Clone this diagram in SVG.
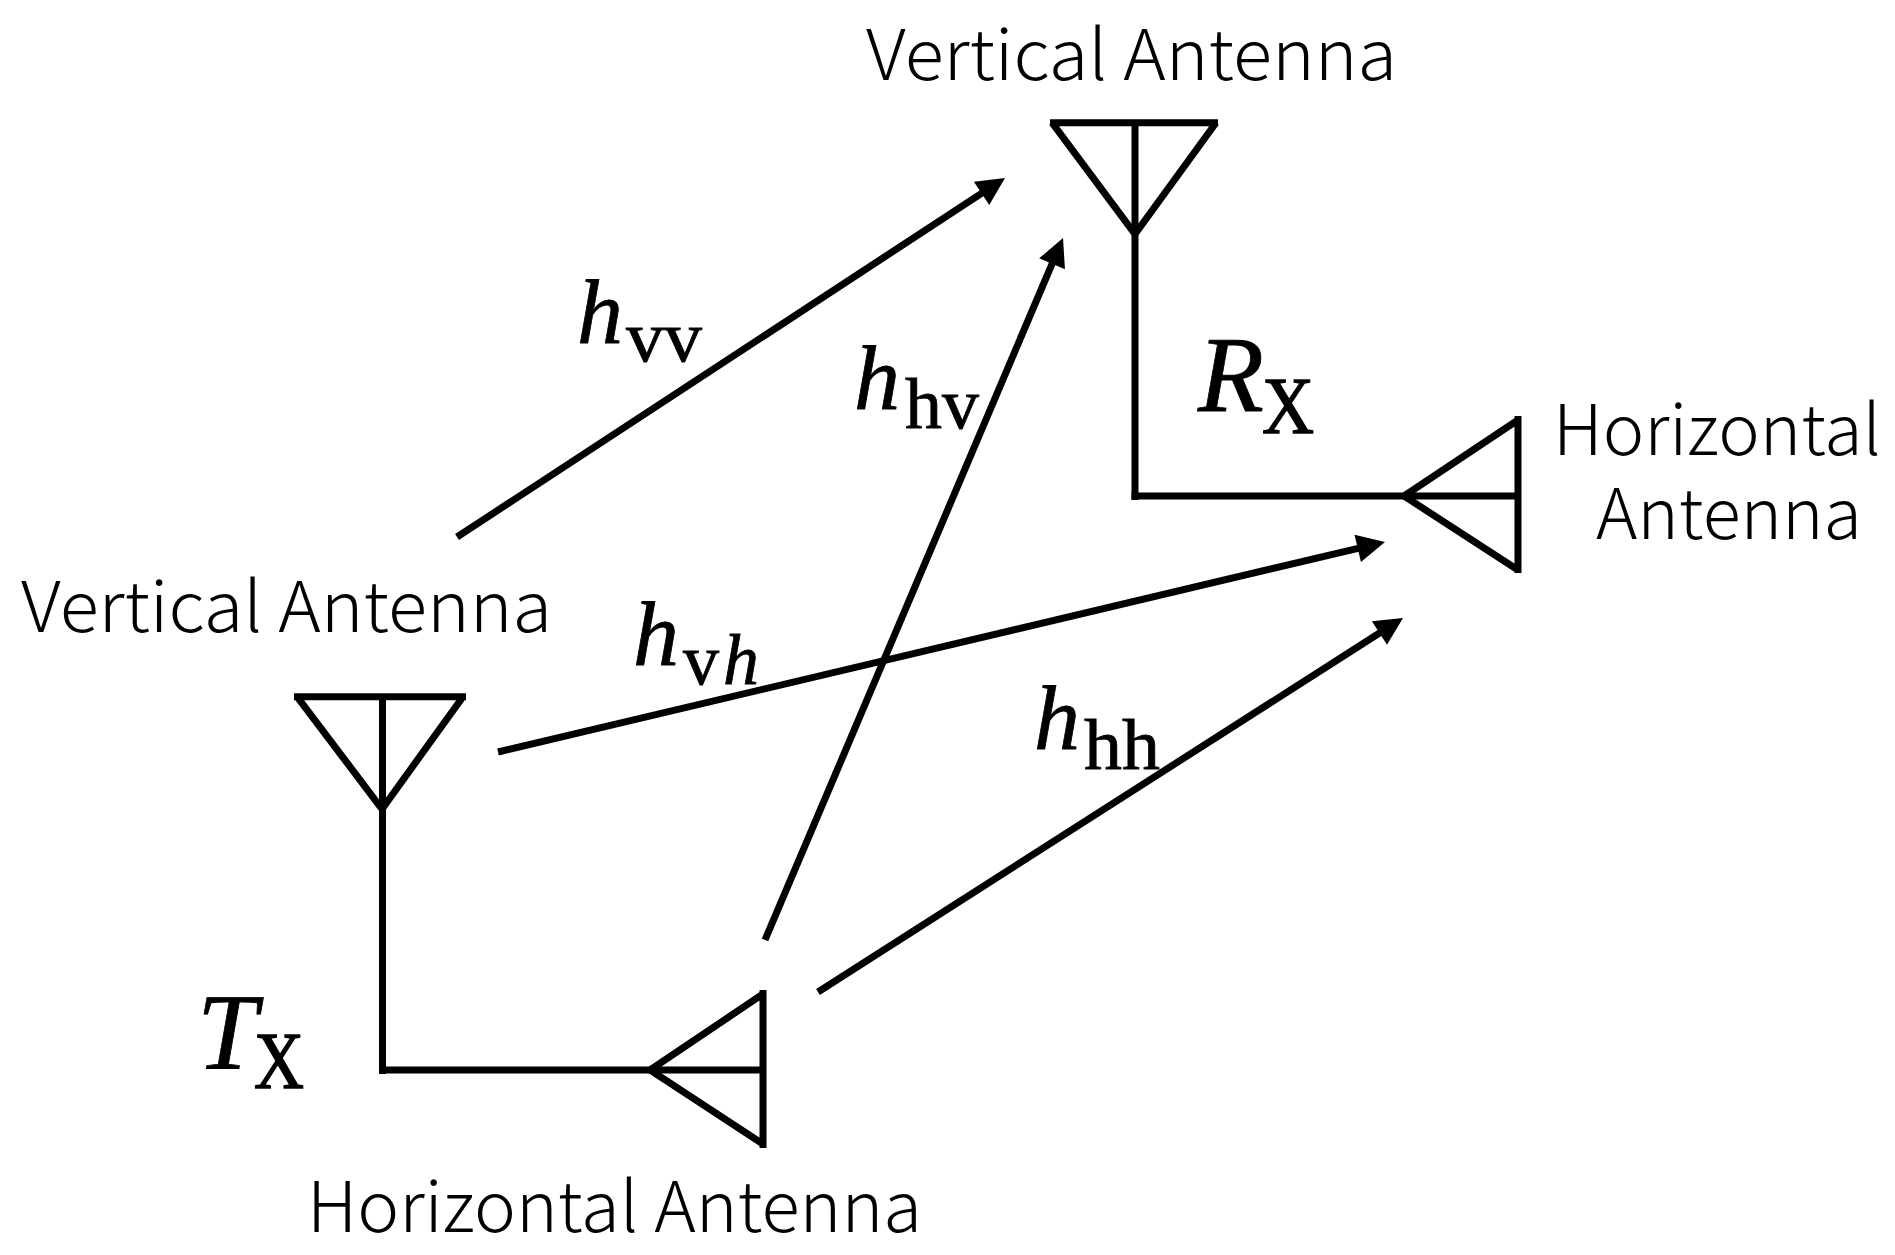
<svg xmlns="http://www.w3.org/2000/svg" width="1895" height="1255" viewBox="0 0 1895 1255">
<style>
.w{fill:none;stroke:#000;stroke-width:7}
.a{stroke:#000;stroke-width:7;fill:none;marker-end:url(#arrow)}
.l{font-family:"Noto Sans CJK JP","Noto Sans",sans-serif;font-weight:300;font-size:70px;fill:#000}
.m{font-family:"Liberation Serif",serif;fill:#000;stroke:#000;stroke-width:.8}
.i{font-style:italic}
.h{font-size:92px}.s{font-size:72px}.b{font-size:108px}.x{font-size:80px;stroke-width:1.4}
</style>
<defs>
<marker id="arrow" markerUnits="userSpaceOnUse" markerWidth="30" markerHeight="30" refX="20" refY="14" orient="auto" overflow="visible">
<path d="M0 0L28 14L0 28Z" fill="#000"/>
</marker>
</defs>
<rect width="1895" height="1255" fill="#fff"/>
<g id="connectors">
<line class="a" x1="457" y1="537" x2="998.3" y2="182.4"/>
<line class="a" x1="765" y1="940" x2="1059.9" y2="245.4"/>
<line class="a" x1="498" y1="752" x2="1377.2" y2="543.8"/>
<line class="a" x1="818" y1="992" x2="1396.3" y2="622.3"/>
</g>
<g id="rx-vertical-antenna">
<path class="w" d="M1050 122.7H1218M1052 122.7L1135 234L1216 122.7"/>
<path class="w" d="M1135 122.7V500"/>
<text class="l" x="866" y="80" textLength="531" lengthAdjust="spacingAndGlyphs">Vertical Antenna</text>
</g>
<g id="rx-horizontal-antenna">
<path class="w" d="M1518 416V573M1518 420L1404 496L1518 570"/>
<path class="w" d="M1131.5 496H1518"/>
<text class="l" x="1553" y="455" textLength="328" lengthAdjust="spacingAndGlyphs">Horizontal</text>
<text class="l" x="1596" y="539" textLength="266" lengthAdjust="spacingAndGlyphs">Antenna</text>
</g>
<g id="tx-vertical-antenna">
<path class="w" d="M294 696.7H466M297 696.7L382 809L463 696.7"/>
<path class="w" d="M382.5 696.7V1074"/>
<text class="l" x="21" y="632" textLength="531" lengthAdjust="spacingAndGlyphs">Vertical Antenna</text>
</g>
<g id="tx-horizontal-antenna">
<path class="w" d="M763 990V1148M763 994L650 1070L763 1144"/>
<path class="w" d="M379 1070H763"/>
<text class="l" x="307" y="1232" textLength="615" lengthAdjust="spacingAndGlyphs">Horizontal Antenna</text>
</g>
<g id="label-rx"><text class="m i b" x="1198" y="411">R</text><text class="m x" x="1262" y="433" textLength="52" lengthAdjust="spacingAndGlyphs">X</text></g>
<g id="label-tx"><text class="m i b" x="197" y="1068">T</text><text class="m x" x="254" y="1088" textLength="50" lengthAdjust="spacingAndGlyphs">X</text></g>
<g id="label-hvv"><text class="m i h" x="577" y="343">h</text><text class="m s" x="626" y="361" textLength="76" lengthAdjust="spacingAndGlyphs">vv</text></g>
<g id="label-hhv"><text class="m i h" x="854" y="409">h</text><text class="m s" x="905" y="428" textLength="74" lengthAdjust="spacingAndGlyphs">hv</text></g>
<g id="label-hvh"><text class="m i h" x="633" y="665">h</text><text class="m s" x="683" y="684">v</text><text class="m i s" x="723" y="684">h</text></g>
<g id="label-hhh"><text class="m i h" x="1034" y="749">h</text><text class="m s" x="1084" y="769" textLength="76" lengthAdjust="spacingAndGlyphs">hh</text></g>
</svg>
